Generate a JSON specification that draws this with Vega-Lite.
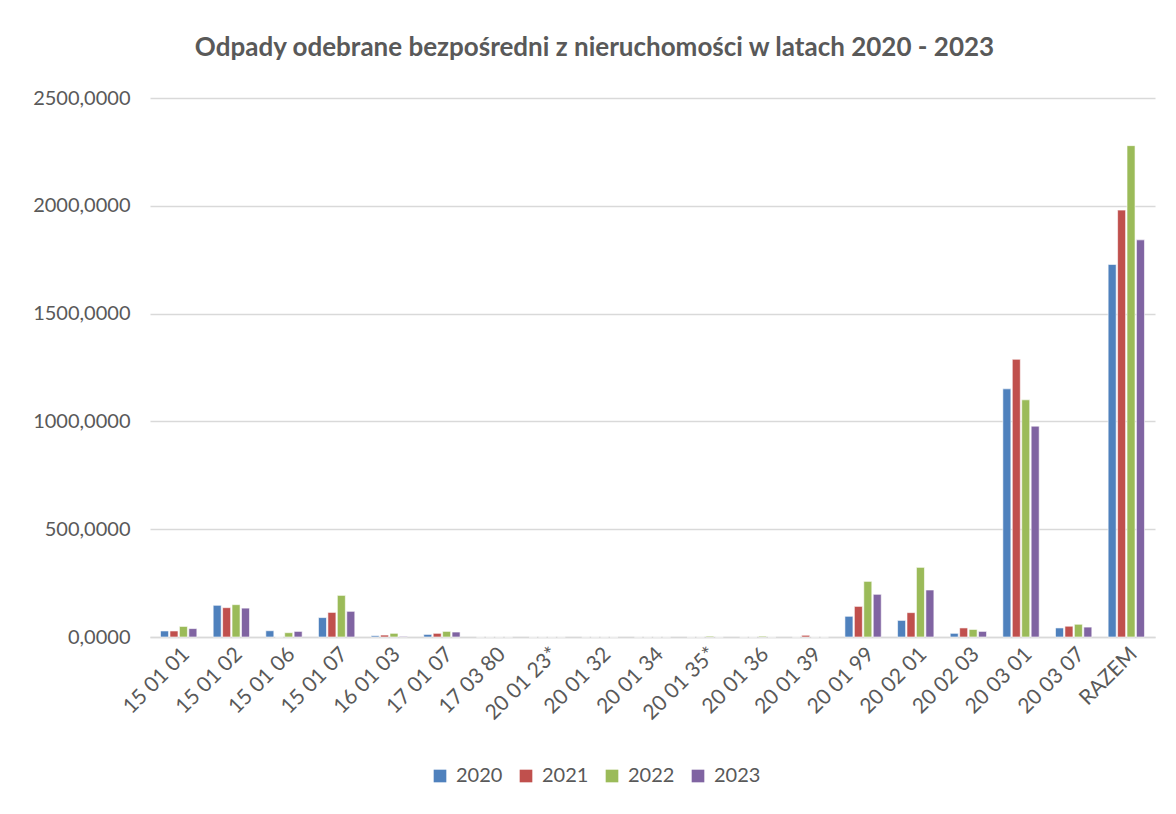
{
  "$schema": "https://vega.github.io/schema/vega-lite/v6.json",
  "autosize": {"type": "none"},
  "width": 1005,
  "height": 539,
  "padding": {"left": 150, "top": 98, "right": 21, "bottom": 177},
  "background": "white",
  "title": {
    "text": "Odpady odebrane bezpośredni z nieruchomości w latach 2020 - 2023",
    "font": "Lato",
    "fontSize": 26,
    "fontWeight": "bold",
    "color": "#595959",
    "anchor": "middle",
    "dx": -58,
    "offset": 27
  },
  "data": {
    "values": [
      {"kod": "15 01 01", "rok": "2020", "wartosc": 28},
      {"kod": "15 01 01", "rok": "2021", "wartosc": 28},
      {"kod": "15 01 01", "rok": "2022", "wartosc": 49},
      {"kod": "15 01 01", "rok": "2023", "wartosc": 39},
      {"kod": "15 01 02", "rok": "2020", "wartosc": 147},
      {"kod": "15 01 02", "rok": "2021", "wartosc": 136},
      {"kod": "15 01 02", "rok": "2022", "wartosc": 150},
      {"kod": "15 01 02", "rok": "2023", "wartosc": 134},
      {"kod": "15 01 06", "rok": "2020", "wartosc": 29},
      {"kod": "15 01 06", "rok": "2021", "wartosc": 0},
      {"kod": "15 01 06", "rok": "2022", "wartosc": 20},
      {"kod": "15 01 06", "rok": "2023", "wartosc": 26},
      {"kod": "15 01 07", "rok": "2020", "wartosc": 90},
      {"kod": "15 01 07", "rok": "2021", "wartosc": 114},
      {"kod": "15 01 07", "rok": "2022", "wartosc": 193},
      {"kod": "15 01 07", "rok": "2023", "wartosc": 119},
      {"kod": "16 01 03", "rok": "2020", "wartosc": 6},
      {"kod": "16 01 03", "rok": "2021", "wartosc": 9},
      {"kod": "16 01 03", "rok": "2022", "wartosc": 17},
      {"kod": "16 01 03", "rok": "2023", "wartosc": 3},
      {"kod": "17 01 07", "rok": "2020", "wartosc": 12},
      {"kod": "17 01 07", "rok": "2021", "wartosc": 17},
      {"kod": "17 01 07", "rok": "2022", "wartosc": 26},
      {"kod": "17 01 07", "rok": "2023", "wartosc": 23},
      {"kod": "17 03 80", "rok": "2020", "wartosc": 0},
      {"kod": "17 03 80", "rok": "2021", "wartosc": 0},
      {"kod": "17 03 80", "rok": "2022", "wartosc": 0},
      {"kod": "17 03 80", "rok": "2023", "wartosc": 0},
      {"kod": "20 01 23*", "rok": "2020", "wartosc": 0},
      {"kod": "20 01 23*", "rok": "2021", "wartosc": 0},
      {"kod": "20 01 23*", "rok": "2022", "wartosc": 0},
      {"kod": "20 01 23*", "rok": "2023", "wartosc": 0},
      {"kod": "20 01 32", "rok": "2020", "wartosc": 0},
      {"kod": "20 01 32", "rok": "2021", "wartosc": 0},
      {"kod": "20 01 32", "rok": "2022", "wartosc": 0},
      {"kod": "20 01 32", "rok": "2023", "wartosc": 0},
      {"kod": "20 01 34", "rok": "2020", "wartosc": 0},
      {"kod": "20 01 34", "rok": "2021", "wartosc": 0},
      {"kod": "20 01 34", "rok": "2022", "wartosc": 0},
      {"kod": "20 01 34", "rok": "2023", "wartosc": 0},
      {"kod": "20 01 35*", "rok": "2020", "wartosc": 0},
      {"kod": "20 01 35*", "rok": "2021", "wartosc": 0},
      {"kod": "20 01 35*", "rok": "2022", "wartosc": 4},
      {"kod": "20 01 35*", "rok": "2023", "wartosc": 0},
      {"kod": "20 01 36", "rok": "2020", "wartosc": 0},
      {"kod": "20 01 36", "rok": "2021", "wartosc": 0},
      {"kod": "20 01 36", "rok": "2022", "wartosc": 4},
      {"kod": "20 01 36", "rok": "2023", "wartosc": 0},
      {"kod": "20 01 39", "rok": "2020", "wartosc": 0},
      {"kod": "20 01 39", "rok": "2021", "wartosc": 8},
      {"kod": "20 01 39", "rok": "2022", "wartosc": 0},
      {"kod": "20 01 39", "rok": "2023", "wartosc": 0},
      {"kod": "20 01 99", "rok": "2020", "wartosc": 96},
      {"kod": "20 01 99", "rok": "2021", "wartosc": 142},
      {"kod": "20 01 99", "rok": "2022", "wartosc": 258},
      {"kod": "20 01 99", "rok": "2023", "wartosc": 198},
      {"kod": "20 02 01", "rok": "2020", "wartosc": 77},
      {"kod": "20 02 01", "rok": "2021", "wartosc": 113},
      {"kod": "20 02 01", "rok": "2022", "wartosc": 323},
      {"kod": "20 02 01", "rok": "2023", "wartosc": 218},
      {"kod": "20 02 03", "rok": "2020", "wartosc": 17},
      {"kod": "20 02 03", "rok": "2021", "wartosc": 42},
      {"kod": "20 02 03", "rok": "2022", "wartosc": 35},
      {"kod": "20 02 03", "rok": "2023", "wartosc": 26},
      {"kod": "20 03 01", "rok": "2020", "wartosc": 1151},
      {"kod": "20 03 01", "rok": "2021", "wartosc": 1288},
      {"kod": "20 03 01", "rok": "2022", "wartosc": 1100},
      {"kod": "20 03 01", "rok": "2023", "wartosc": 978},
      {"kod": "20 03 07", "rok": "2020", "wartosc": 42},
      {"kod": "20 03 07", "rok": "2021", "wartosc": 50},
      {"kod": "20 03 07", "rok": "2022", "wartosc": 59},
      {"kod": "20 03 07", "rok": "2023", "wartosc": 46},
      {"kod": "RAZEM", "rok": "2020", "wartosc": 1728},
      {"kod": "RAZEM", "rok": "2021", "wartosc": 1980},
      {"kod": "RAZEM", "rok": "2022", "wartosc": 2279},
      {"kod": "RAZEM", "rok": "2023", "wartosc": 1842}
    ]
  },
  "mark": {"type": "bar", "stroke": "white", "strokeWidth": 0.6},
  "encoding": {
    "x": {
      "field": "kod",
      "type": "nominal",
      "sort": null,
      "title": null,
      "scale": {"paddingInner": 0.31, "paddingOuter": 0.2},
      "axis": {
        "labelAngle": -45,
        "labelFont": "Lato",
        "labelFontSize": 21,
        "labelColor": "#595959",
        "ticks": false,
        "domainColor": "#d9d9d9",
        "domainWidth": 1.5,
        "labelPadding": 6
      }
    },
    "xOffset": {
      "field": "rok",
      "type": "nominal",
      "scale": {"paddingInner": 0.15}
    },
    "y": {
      "field": "wartosc",
      "type": "quantitative",
      "title": null,
      "scale": {"domain": [0, 2500]},
      "axis": {
        "values": [0, 500, 1000, 1500, 2000, 2500],
        "labelExpr": "replace(format(datum.value, '.4f'), '.', ',')",
        "labelFont": "Lato",
        "labelFontSize": 20,
        "labelColor": "#595959",
        "labelPadding": 20,
        "ticks": false,
        "domain": false,
        "gridColor": "#d9d9d9",
        "gridWidth": 1.5
      }
    },
    "color": {
      "field": "rok",
      "type": "nominal",
      "title": null,
      "scale": {"domain": ["2020", "2021", "2022", "2023"], "range": ["#4F81BD", "#C0504D", "#9BBB59", "#8064A2"]},
      "legend": {
        "orient": "none",
        "legendX": 280,
        "legendY": 668,
        "direction": "horizontal",
        "symbolType": "square",
        "symbolSize": 160,
        "symbolStrokeWidth": 0,
        "labelFont": "Lato",
        "labelFontSize": 20,
        "labelColor": "#595959",
        "columnPadding": 13,
        "labelOffset": 6
      }
    }
  },
  "config": {
    "view": {"stroke": null}
  }
}
